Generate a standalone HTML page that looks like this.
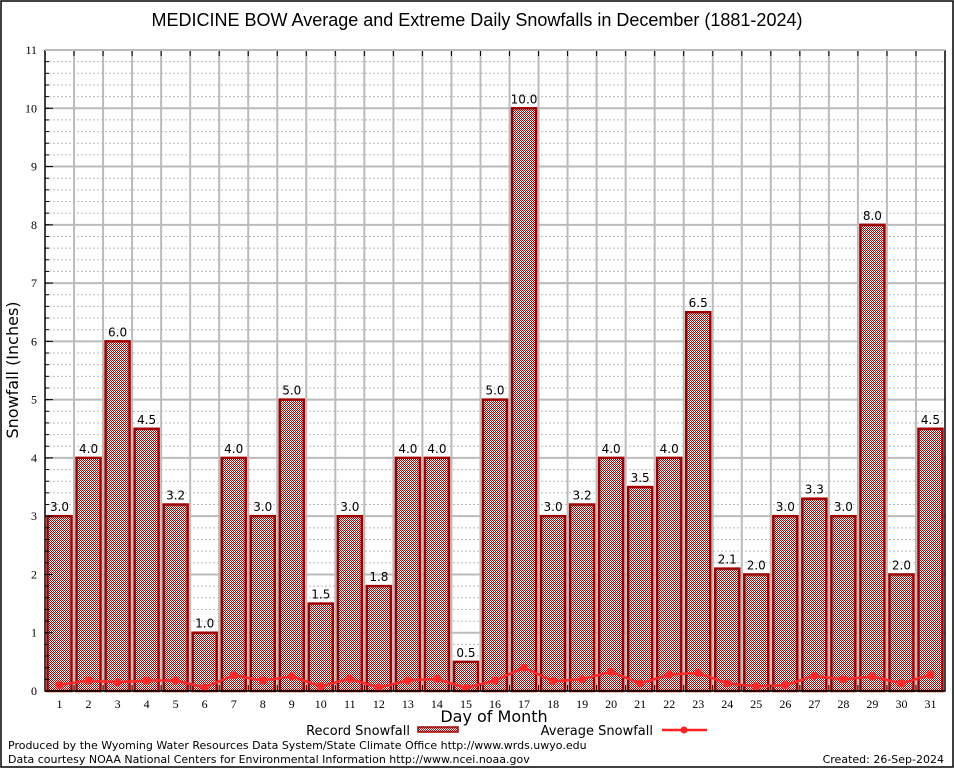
<!DOCTYPE html>
<html><head><meta charset="utf-8"><style>
html,body{margin:0;padding:0;background:#fff;}
svg{display:block;font-family:"DejaVu Sans","Liberation Sans",sans-serif;}
</style></head><body>
<svg id="chart" width="954" height="768" viewBox="0 0 954 768" xmlns="http://www.w3.org/2000/svg">
<defs>
<pattern id="chk" width="2" height="2" patternUnits="userSpaceOnUse">
<rect width="2" height="2" fill="#fff"/>
<rect width="1" height="1" fill="#b00000"/>
<rect x="1" y="1" width="1" height="1" fill="#b00000"/>
</pattern>
</defs>
<rect x="1" y="1" width="952" height="766" fill="#fff" stroke="#000" stroke-width="1.5"/>
<text x="477" y="26" text-anchor="middle" font-family="Liberation Sans, sans-serif" font-size="18">MEDICINE BOW Average and Extreme Daily Snowfalls in December (1881-2024)</text>
<g id="grid"></g>
<g id="bars"></g>
<g id="avgline"></g>
<g id="axes"></g>
<text x="18" y="370" transform="rotate(-90 18 370)" text-anchor="middle" font-size="16">Snowfall (Inches)</text>
<text x="494" y="722" text-anchor="middle" font-size="16">Day of Month</text>
<g>
<text x="410" y="735" text-anchor="end" font-size="13">Record Snowfall</text>
<rect x="418" y="727" width="40" height="5" fill="url(#chk)" stroke="#a00000" stroke-width="1.5"/>
<text x="653" y="735" text-anchor="end" font-size="13">Average Snowfall</text>
<line x1="662" y1="730" x2="707" y2="730" stroke="#ff2020" stroke-width="2.5"/>
<circle cx="684" cy="730" r="3.5" fill="#ff2020"/>
</g>
<text x="8" y="749" font-size="11">Produced by the Wyoming Water Resources Data System/State Climate Office http://www.wrds.uwyo.edu</text>
<text x="8" y="763" font-size="11">Data courtesy NOAA National Centers for Environmental Information http://www.ncei.noaa.gov</text>
<text x="944" y="763" text-anchor="end" font-size="11">Created: 26-Sep-2024</text>
</svg>
<script>
const days = [1,2,3,4,5,6,7,8,9,10,11,12,13,14,15,16,17,18,19,20,21,22,23,24,25,26,27,28,29,30,31];
const recordSnow = [3.0,4.0,6.0,4.5,3.2,1.0,4.0,3.0,5.0,1.5,3.0,1.8,4.0,4.0,0.5,5.0,10.0,3.0,3.2,4.0,3.5,4.0,6.5,2.1,2.0,3.0,3.3,3.0,8.0,2.0,4.5];
const avgSnow = [0.10,0.18,0.15,0.18,0.18,0.06,0.27,0.18,0.25,0.08,0.21,0.06,0.18,0.21,0.05,0.18,0.40,0.17,0.20,0.33,0.13,0.28,0.31,0.13,0.08,0.10,0.26,0.20,0.25,0.13,0.28];
const yTicks = [0,1,2,3,4,5,6,7,8,9,10,11];

const NS='http://www.w3.org/2000/svg';
const L=45,R=945,T=50,B=691,YMAX=11;
const bw=(R-L)/days.length;
const xC=d=>L+(d-0.5)*bw;
const yS=v=>B-v/YMAX*(B-T);
function mk(tag,attrs,parent){const e=document.createElementNS(NS,tag);for(const k in attrs)e.setAttribute(k,attrs[k]);parent.appendChild(e);return e;}
const gridG=document.getElementById('grid'),barsG=document.getElementById('bars'),lineG=document.getElementById('avgline'),axesG=document.getElementById('axes');

for(let v=0.2;v<YMAX;v+=0.2){
  if(Math.abs(v-Math.round(v))<0.01)continue;
  const g=mk('line',{x1:L,x2:R,y1:yS(v),y2:yS(v),stroke:'#bbb','stroke-width':1,'stroke-dasharray':'2,2'},gridG);
  
  
}
yTicks.forEach(v=>{
  const g=mk('line',{x1:L,x2:R,y1:yS(v),y2:yS(v),stroke:'#bbb','stroke-width':2},gridG);
  
  
  const t=mk('text',{x:L-8,y:yS(v)+4,'text-anchor':'end','font-size':12,'font-family':'Liberation Serif, serif'},axesG);
  t.textContent=v;
  
  
  const tk=mk('line',{x1:L,x2:L+8,y1:yS(v),y2:yS(v),stroke:'#000','stroke-width':1},axesG);
  
  
});
for(let v=0.2;v<YMAX;v+=0.2){
  const tk=mk('line',{x1:L,x2:L+4,y1:yS(v),y2:yS(v),stroke:'#000','stroke-width':1},axesG);
  
  
}
for(let i=1;i<days.length;i++){
  const x=L+i*bw;
  const g=mk('line',{x1:x,x2:x,y1:T,y2:B,stroke:'#bbb','stroke-width':2},gridG);
  
  
  const tk=mk('line',{x1:x,x2:x,y1:B,y2:B-6,stroke:'#000','stroke-width':1},axesG);
  
  
  const tk2=mk('line',{x1:x,x2:x,y1:T,y2:T+6,stroke:'#000','stroke-width':1},axesG);
  
  
}
days.forEach((d,i)=>{
  const v=recordSnow[i],x=xC(d);
  const b=mk('rect',{x:x-12,y:yS(v),width:24,height:B-yS(v),fill:'url(#chk)',stroke:'#a00000','stroke-width':2.5},barsG);
  
  
  const t=mk('text',{x:x,y:yS(v)-5,'text-anchor':'middle','font-size':12},barsG);
  t.textContent=v.toFixed(1);
  
  
  const xl=mk('text',{x:x,y:B+17,'text-anchor':'middle','font-size':12,'font-family':'Liberation Serif, serif'},axesG);
  xl.textContent=d;
  
  
});
const pts=days.map((d,i)=>xC(d)+','+yS(avgSnow[i]));
const pl=mk('polyline',{points:pts.join(' '),fill:'none',stroke:'#ff2828','stroke-width':2.5,'stroke-linejoin':'round'},lineG);


days.forEach((d,i)=>{
  const c=mk('circle',{cx:xC(d),cy:yS(avgSnow[i]),r:4,fill:'#ff2828'},lineG);
  
  
});
const frame=mk('path',{d:`M${L},${T} V${B} H${R} V${T}`,fill:'none',stroke:'#000','stroke-width':1.5},axesG);


const topBorder=mk('line',{x1:L,x2:R,y1:T,y2:T,stroke:'#bbb','stroke-width':2},axesG);


</script>
</body></html>
